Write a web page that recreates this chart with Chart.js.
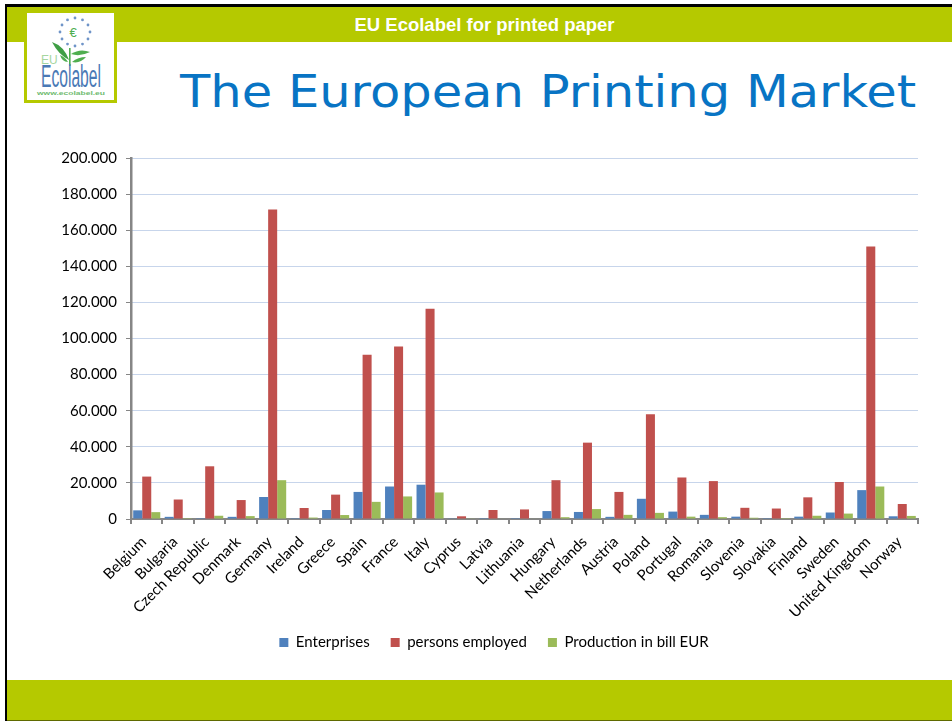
<!DOCTYPE html>
<html>
<head>
<meta charset="utf-8">
<title>The European Printing Market</title>
<script src="https://cdn.jsdelivr.net/npm/chart.js@4"></script>
<style>
  html, body { margin: 0; padding: 0; background: #fff; }
  #slide { position: relative; width: 952px; height: 722px; overflow: hidden; background: #fff; }
  #frameTop { position: absolute; left: 5px; top: 4px; width: 947px; height: 3px; background: #000; }
  #frameLeft { position: absolute; left: 5px; top: 4px; width: 2px; height: 717px; background: #000; }
  #headBar { position: absolute; left: 7px; top: 7px; width: 945px; height: 35px; background: #b5c900; }
  #footBar { position: absolute; left: 7px; top: 680px; width: 945px; height: 40px; background: #b5c900; }
  #footLine { position: absolute; left: 7px; top: 720px; width: 945px; height: 1px; background: #5f6a00; }
  #headText { position: absolute; left: 0; top: 14px; width: 969px; text-align: center; color: #fff;
    font: bold 18.5px "Liberation Sans", sans-serif; }
  #title { position: absolute; left: 180px; top: 66px; white-space: nowrap; color: #0874c4;
    font: 44px "DejaVu Sans", sans-serif; transform: scaleX(1.126); transform-origin: left top; }
  #logo { position: absolute; left: 24px; top: 10px; width: 93px; height: 93px; }
  #chartBox { position: absolute; left: 0; top: 0; width: 952px; height: 722px; }
</style>
</head>
<body>
<div id="slide">
  <div id="headBar"></div>
  <div id="footBar"></div>
  <div id="footLine"></div>
  <div id="frameTop"></div>
  <div id="frameLeft"></div>
  <div id="headText">EU Ecolabel for printed paper</div>
  <div id="title">The European Printing Market</div>
  <svg id="logo" viewBox="0 0 93 93" xmlns="http://www.w3.org/2000/svg">
    <rect x="1.5" y="1.5" width="90" height="90" fill="#fff" stroke="#b5c900" stroke-width="3"/>
    <g fill="#6f94c8" id="stars"></g>
    <text x="49" y="27" text-anchor="middle" font-family="Liberation Sans" font-size="13" fill="#4fae4f">€</text>
    <path d="M28 32 Q40 36 45 50 Q34 44 28 32Z" fill="#3f9e45"/>
    <path d="M47 44 Q56 38 66 42 Q56 47 47 44Z" fill="#4fae4f"/>
    <path d="M48 52 Q54 47 62 47 Q56 54 48 52Z" fill="#4fae4f"/>
    <path d="M36 45 Q41 47 44 52 Q38 52 36 45Z" fill="#4fae4f"/>
    <rect x="45" y="38" width="1.6" height="18" fill="#4fae4f"/>
    <text x="17" y="54" font-family="Liberation Sans" font-size="12" fill="#a6d6a0">EU</text>
    <text x="17" y="77" font-family="Liberation Sans" font-size="31" fill="#4a79b5" textLength="60" lengthAdjust="spacingAndGlyphs">Ecolabel</text>
    <text x="47" y="85" text-anchor="middle" font-family="Liberation Sans" font-weight="bold" font-size="6" fill="#6fbb6f" textLength="68" lengthAdjust="spacingAndGlyphs">www.ecolabel.eu</text>
  </svg>
  <div id="chartBox"><canvas id="marketChart" width="952" height="722"></canvas></div>
</div>
<script>
// Printing industry figures per country
const countries = ["Belgium", "Bulgaria", "Czech Republic", "Denmark", "Germany", "Ireland", "Greece", "Spain", "France", "Italy", "Cyprus", "Latvia", "Lithuania", "Hungary", "Netherlands", "Austria", "Poland", "Portugal", "Romania", "Slovenia", "Slovakia", "Finland", "Sweden", "United Kingdom", "Norway"];
const enterprises = [4800, 1200, 500, 1200, 12200, 500, 5000, 15000, 18000, 19000, 400, 500, 500, 4400, 3900, 1200, 11200, 4100, 2300, 1300, 500, 1300, 3600, 16000, 1500];
const personsEmployed = [23500, 10800, 29200, 10500, 171500, 6100, 13500, 91000, 95500, 116500, 1500, 5000, 5300, 21500, 42300, 15000, 58000, 23000, 21000, 6200, 5800, 12000, 20500, 151000, 8300];
const production = [3800, 500, 1800, 1600, 21500, 800, 2200, 9500, 12500, 14700, 200, 300, 300, 1000, 5500, 2300, 3400, 1300, 1000, 700, 500, 1800, 3000, 18000, 1700];

// Ring of stars round the euro sign in the logo
const stars = document.getElementById("stars");
for (let i = 0; i < 12; i++) {
  const a = i * Math.PI / 6;
  const dot = document.createElementNS("http://www.w3.org/2000/svg", "circle");
  dot.setAttribute("cx", 51 + 15 * Math.sin(a));
  dot.setAttribute("cy", 22 - 14 * Math.cos(a));
  dot.setAttribute("r", 1.4);
  stars.appendChild(dot);
}

function makeDataset(label, data, color) {
  return {
    label: label,
    data: data,
    backgroundColor: color,
    borderWidth: 0,
    categoryPercentage: 0.86,
    barPercentage: 1,
  };
}

const chartFont = { family: "Lato, 'Open Sans', sans-serif", size: 15 };

// Moves the legend right of the plot's middle and gives the long country names room below the axis
const layoutTweaks = {
  id: "layoutTweaks",
  afterLayout: function (chart) {
    chart.legend.left += 20;
    chart.scales.x.bottom += 20;
  },
};

new Chart(document.getElementById("marketChart").getContext("2d"), {
  type: "bar",
  plugins: [layoutTweaks],
  data: {
    labels: countries,
    datasets: [
      makeDataset("Enterprises", enterprises, "#4f81bd"),
      makeDataset("persons employed", personsEmployed, "#c0504d"),
      makeDataset("Production in bill EUR", production, "#9bbb59"),
    ],
  },
  options: {
    responsive: false,
    animation: false,
    layout: { padding: { left: 50, right: 34, top: 158, bottom: 62 } },
    plugins: {
      tooltip: { enabled: false },
      legend: {
        position: "bottom",
        labels: { boxWidth: 9, boxHeight: 9, padding: 21, color: "#000", font: chartFont },
      },
    },
    scales: {
      x: {
        grid: { drawOnChartArea: false, color: "#868686", tickLength: 5, lineWidth: 2 },
        border: { color: "#868686", width: 2 },
        ticks: { color: "#000", font: chartFont, autoSkip: false, minRotation: 45, maxRotation: 45, padding: 9, labelOffset: -3 },
        afterFit: function (scale) { scale.height = 95; },
      },
      y: {
        min: 0,
        max: 200000,
        border: { color: "#868686", width: 2.5, dash: [1, 1] },
        grid: { color: "#8eabd6", lineWidth: 1, tickColor: "#868686", tickLength: 5 },
        ticks: {
          color: "#000",
          font: chartFont,
          stepSize: 20000,
          padding: 9,
          callback: function (value) { return value.toLocaleString("de-DE"); },
        },
        afterFit: function (scale) { scale.width = 81; },
      },
    },
  },
});
</script>
</body>
</html>
